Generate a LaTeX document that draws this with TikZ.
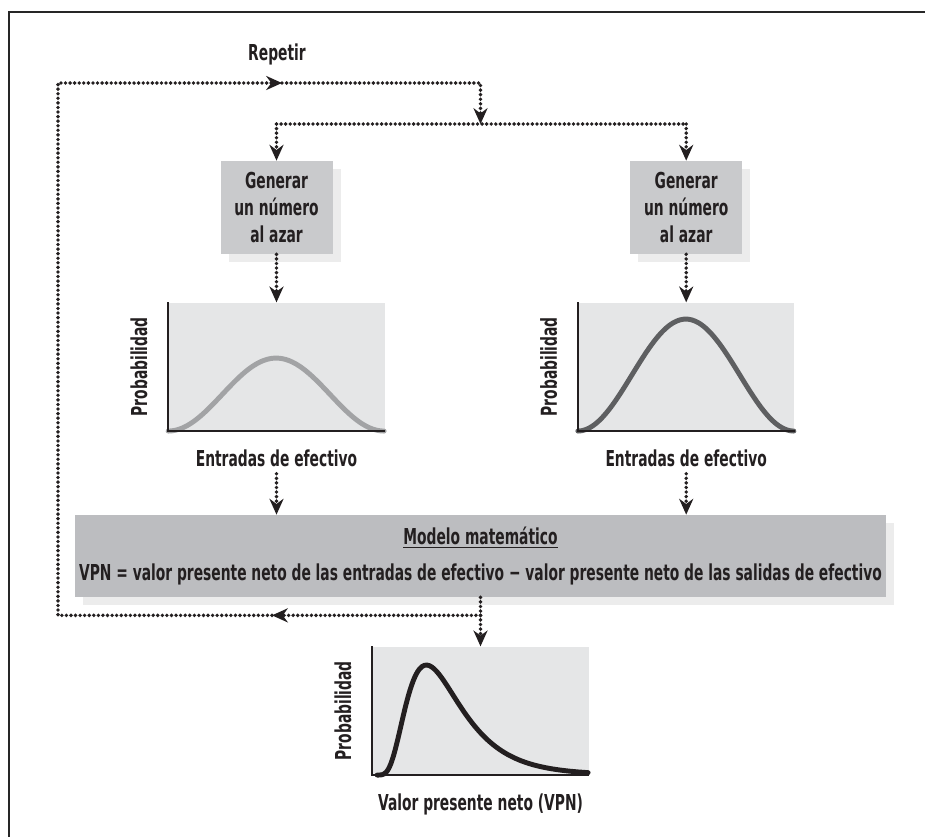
\documentclass[tikz,border=0pt]{standalone}
\usepackage{fontspec}
\newfontfamily\futfont{DejaVu Sans}[FakeStretch=0.63]
\usetikzlibrary{arrows.meta, positioning, shadows, calc}

\definecolor{boxgray}{HTML}{C9CACC}
\definecolor{modelgray}{HTML}{BCBDC0}
\definecolor{shadowgray}{HTML}{ECECEC}
\definecolor{chartbg}{HTML}{E5E6E7}
\definecolor{curvelight}{HTML}{A2A3A5}
\definecolor{curvedark}{HTML}{5E5F61}
\definecolor{framegray}{HTML}{262626}
\definecolor{inkgray}{HTML}{231F20}

\tikzset{
  txt/.style={font=\futfont\bfseries\fontsize{12.5}{15.3}\selectfont, inner sep=0pt,
              text=inkgray},
  boxshadow/.style={drop shadow={shadow xshift=0.16cm, shadow yshift=-0.16cm,
                    fill=shadowgray, opacity=1}},
  genbox/.style={txt, fill=boxgray, align=center, boxshadow,
                 minimum width=2.24cm, minimum height=1.86cm},
  modelbox/.style={txt, fill=modelgray, align=center, boxshadow,
                   font=\futfont\bfseries\fontsize{12.5}{20.4}\selectfont,
                   minimum width=16.22cm, minimum height=1.64cm},
  chartbox/.style={fill=chartbg, minimum width=4.32cm, minimum height=2.56cm,
                   inner sep=0pt},
  dotline/.style={line width=2.2pt, line cap=round, dash pattern=on 0pt off 2.6pt,
                  draw=inkgray},
  dotarrow/.style={dotline, -{Stealth[length=9pt, width=8pt]}},
  axisline/.style={line width=1pt, draw=inkgray},
  curveline/.style={line width=2.8pt, line cap=round},
}

\begin{document}
\begin{tikzpicture}
  \useasboundingbox (0,0) rectangle (18.5,-16.74);
  \draw[line width=1.7pt, draw=framegray] (0.18,-16.74) -- (0.18,-0.24) -- (18.5,-0.24);

  % random number generators
  \node[genbox] (gen1) at (5.53,-4.15) {Generar\\un número\\al azar};
  \node[genbox, right=5.94cm of gen1] (gen2) {Generar\\un número\\al azar};

  % input distributions
  \node[chartbox, below=0.96cm of gen1] (chart1) {};
  \node[chartbox, below=0.96cm of gen2] (chart2) {};
  \node[txt, anchor=base] (ent1) at ($(chart1.south)+(0,-0.7)$) {Entradas de efectivo};
  \node[txt, anchor=base] (ent2) at ($(chart2.south)+(0,-0.7)$) {Entradas de efectivo};
  \node[txt, rotate=90, anchor=base] (prob1) at ($(chart1.west)+(-0.42,0)$) {Probabilidad};
  \node[txt, rotate=90, anchor=base] (prob2) at ($(chart2.west)+(-0.42,0)$) {Probabilidad};

  % model
  \node[modelbox] (model) at (9.61,-11.12)
    {\underline{Modelo matemático}\\VPN = valor presente neto de las entradas de efectivo
     − valor presente neto de las salidas de efectivo};

  % output distribution
  \node[chartbox, below=0.98cm of model] (chart3) {};
  \node[txt, anchor=base] (vpnlbl) at ($(chart3.south)+(0,-0.7)$) {Valor presente neto (VPN)};
  \node[txt, rotate=90, anchor=base] (prob3) at ($(chart3.west)+(-0.42,0)$) {Probabilidad};

  % curves
  \begin{scope}[shift={(chart1.south west)}]
    \draw[curveline, curvelight] plot[domain=0:4.32, samples=60, smooth]
      (\x, {0.73*(1-cos(\x/4.32*360))});
  \end{scope}
  \begin{scope}[shift={(chart2.south west)}]
    \draw[curveline, curvedark] plot[domain=0:4.32, samples=60, smooth]
      (\x, {1.12*(1-cos(\x/4.32*360))});
  \end{scope}
  \begin{scope}[shift={(chart3.south west)}]
    \draw[curveline, inkgray] plot[domain=0.1:4.32, samples=90, smooth]
      (\x, {2.2*exp(-ln(\x/1.085)*ln(\x/1.085)/0.5)});
  \end{scope}
  \foreach \c in {chart1, chart2, chart3}
    \draw[axisline] (\c.north west) -- (\c.south west) -- (\c.south east);

  % loop
  \node[txt, anchor=base] (repetir) at (5.54,-1.2) {Repetir};
  \coordinate (loopTL) at (1.16,-1.66);
  \coordinate (loopArrow) at (5.64,-1.66);
  \coordinate (loopTR) at (model.center |- loopTL);
  \coordinate (split) at ($(loopTR)+(0,-0.82)$);
  \coordinate (splitL) at (gen1 |- split);
  \coordinate (splitR) at (gen2 |- split);
  \coordinate (retJoin) at ($(model.south)+(0,-0.36)$);
  \coordinate (retArrow) at (5.44,0 |- retJoin);
  \coordinate (retBL) at (loopTL |- retJoin);

  \draw[dotarrow] (loopArrow) -- (loopTR) -- (split);
  \draw[dotline] (splitL) -- (splitR);
  \draw[dotarrow] (splitL) -- (gen1.north);
  \draw[dotarrow] (splitR) -- (gen2.north);
  \draw[dotarrow] (gen1.south) -- (chart1.north);
  \draw[dotarrow] (gen2.south) -- (chart2.north);
  \draw[dotarrow, shorten <=4pt] (ent1.south) -- (ent1.south |- model.north);
  \draw[dotarrow, shorten <=4pt] (ent2.south) -- (ent2.south |- model.north);
  \draw[dotline] (model.south) -- (retJoin);
  \draw[dotarrow] (retJoin) -- (chart3.north);
  \draw[dotarrow] (retJoin) -- (retArrow);
  \draw[dotarrow] (retArrow) -- (retBL) -- (loopTL) -- (loopArrow);
\end{tikzpicture}
\end{document}
